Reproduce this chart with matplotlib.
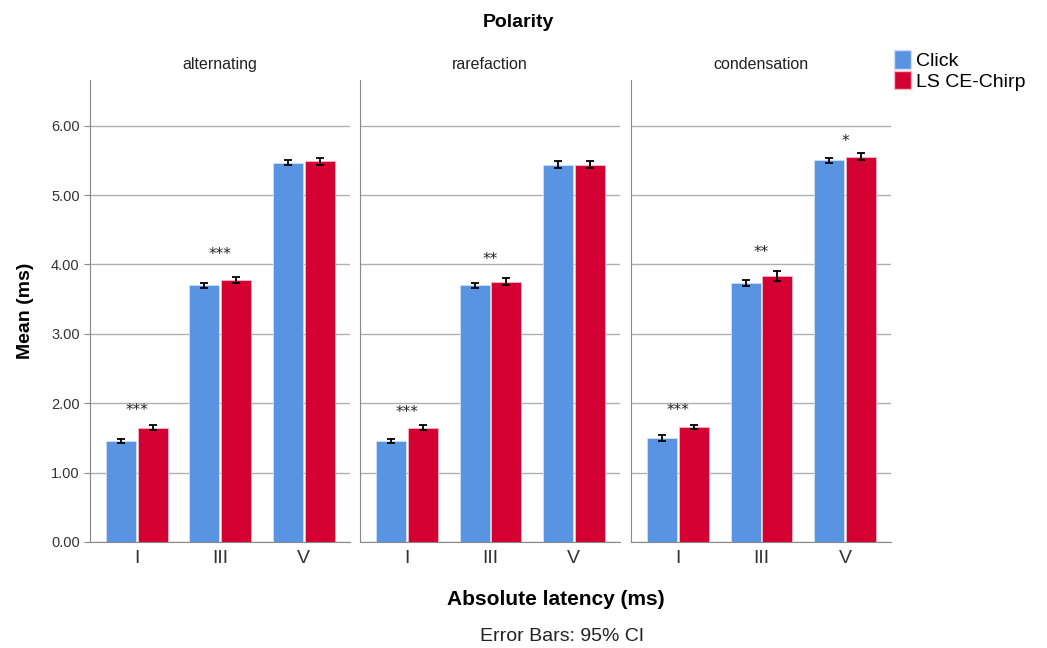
import numpy as np
import matplotlib.pyplot as plt
from matplotlib.patches import Patch

plt.rcParams['font.family'] = ['Liberation Sans', 'DejaVu Sans']

# Dados
panels = ['alternating', 'rarefaction', 'condensation']
waves = ['I', 'III', 'V']
click_mean = [[1.46, 3.70, 5.47], [1.46, 3.70, 5.44], [1.50, 3.73, 5.50]]
chirp_mean = [[1.65, 3.78, 5.49], [1.65, 3.75, 5.44], [1.66, 3.83, 5.55]]
click_ci = [[0.03, 0.04, 0.04], [0.03, 0.04, 0.05], [0.04, 0.04, 0.04]]
chirp_ci = [[0.03, 0.04, 0.05], [0.04, 0.05, 0.05], [0.03, 0.07, 0.05]]
stars = [['***', '***', ''], ['***', '**', ''], ['***', '**', '*']]
star_y = [[1.90, 4.14, 0], [1.87, 4.07, 0], [1.90, 4.18, 5.77]]

c_click = '#5894E2'
c_chirp = '#D50032'

fig = plt.figure(figsize=(10.47, 6.48), dpi=100)
lefts = [0.086, 0.344, 0.603]
x = np.arange(len(waves))
w = 0.36

for i, name in enumerate(panels):
    ax = fig.add_axes([lefts[i], 0.1636, 0.248, 0.713])
    ax.bar(x - w / 2 - 0.01, click_mean[i], w, color=c_click, edgecolor='#cfe0f7', linewidth=0.6,
           yerr=click_ci[i], capsize=3, error_kw=dict(ecolor='black', elinewidth=1.3, capthick=1.3), zorder=3)
    ax.bar(x + w / 2 + 0.01, chirp_mean[i], w, color=c_chirp, edgecolor='#f2b8c6', linewidth=0.6,
           yerr=chirp_ci[i], capsize=3, error_kw=dict(ecolor='black', elinewidth=1.3, capthick=1.3), zorder=3)
    for j in range(len(waves)):
        if stars[i][j]:
            ax.text(x[j], star_y[i][j], stars[i][j], ha='center', va='center', fontsize=11,
                    color='#222222', family='DejaVu Sans')
    ax.set_xlim(-0.56, 2.55)
    ax.set_ylim(0, 6.66)
    ax.set_yticks(np.arange(0, 7, 1.0))
    ax.yaxis.grid(True, color='#b0b0b0', linewidth=1, zorder=0)
    ax.set_axisbelow(True)
    for s in ['top', 'right']:
        ax.spines[s].set_visible(False)
    ax.spines['left'].set_color('#888888')
    ax.spines['bottom'].set_color('#888888')
    ax.set_xticks(x)
    ax.set_xticklabels(waves, fontsize=14, color='#333333')
    ax.tick_params(axis='x', length=0, pad=6)
    ax.set_title(name, fontsize=11.5, color='#222222', pad=8)
    if i == 0:
        ax.set_yticklabels(['%.2f' % v for v in np.arange(0, 7, 1.0)], fontsize=10.5, color='#333333')
        ax.tick_params(axis='y', length=4, color='#888888')
        ax.set_ylabel('Mean (ms)', fontsize=14, fontweight='bold', labelpad=12)
    else:
        ax.tick_params(axis='y', length=0, labelleft=False)

fig.text(0.495, 0.965, 'Polarity', ha='center', va='center', fontsize=14, fontweight='bold')
fig.text(0.531, 0.075, 'Absolute latency (ms)', ha='center', va='center', fontsize=15, fontweight='bold')
fig.text(0.537, 0.018, 'Error Bars: 95% CI', ha='center', va='center', fontsize=14, color='#222222')

handles = [Patch(facecolor=c_click, edgecolor='#cfe0f7'), Patch(facecolor=c_chirp, edgecolor='#f2b8c6')]
fig.legend(handles, ['Click', 'LS CE-Chirp'], loc='upper left', bbox_to_anchor=(0.846, 0.935),
           frameon=False, fontsize=14, handlelength=0.9, handleheight=1.1, handletextpad=0.25,
           labelspacing=0.05, borderaxespad=0)

plt.savefig('out.png', dpi=100)
